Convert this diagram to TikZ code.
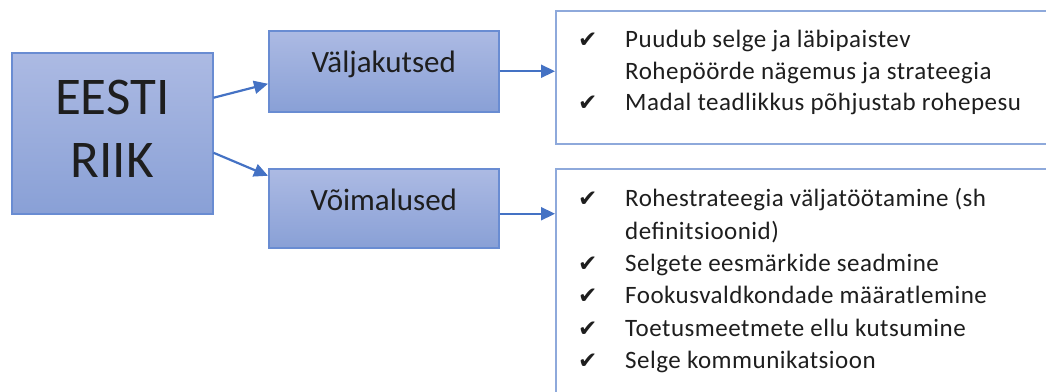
\documentclass[tikz,border=0pt]{standalone}
\usepackage{fontspec}
\setmainfont{Carlito}
\newfontfamily\dejavu{DejaVu Sans}
\usetikzlibrary{arrows.meta}
\definecolor{arrowblue}{RGB}{68,114,196}
\definecolor{boxtop}{RGB}{172,186,227}
\definecolor{boxbot}{RGB}{137,160,214}
\definecolor{boxedge}{RGB}{105,140,210}
\definecolor{listedge}{RGB}{142,169,219}
\definecolor{txt}{RGB}{30,30,30}
\newcommand\ckm{\makebox[47pt][l]{{\dejavu\fontsize{23}{24}\selectfont ✔}}}
\newcommand\dsp{\hspace{6pt}}
\begin{document}
\begin{tikzpicture}[x=1pt,y=-1pt,
 bluebox/.style={draw=boxedge, line width=1.5pt, top color=boxtop, bottom color=boxbot, inner sep=0pt, anchor=north west, text=txt},
 listbox/.style={draw=listedge, line width=2pt, fill=white, inner sep=0pt, anchor=north west},
 item/.style={anchor=base west, inner sep=0pt, font=\fontsize{25}{30}\selectfont\addfontfeatures{LetterSpace=2}, text=txt},
 conn/.style={draw=arrowblue, line width=2.2pt, -{Triangle[length=14pt,width=13pt]}}]
\useasboundingbox (0,0) rectangle (1046,391);
\clip (0,0) rectangle (1046,391);
\node[bluebox, minimum width=201pt, minimum height=161pt, font=\fontsize{53}{63}\selectfont] (state) at (11,52) {\begin{tabular}{@{}c@{}}EESTI\\RIIK\end{tabular}};
\node[bluebox, minimum width=230pt, minimum height=81pt, font=\fontsize{31}{36}\selectfont, text height=2.4pt, text depth=0pt] (v) at (268,30) {Väljakutsed};
\node[bluebox, minimum width=230pt, minimum height=79pt, font=\fontsize{31}{36}\selectfont, text height=5pt, text depth=0pt] (w) at (268,168) {Võimalused};
\node[listbox, minimum width=520pt, minimum height=133pt] (r1) at (555,10) {};
\node[listbox, minimum width=520pt, minimum height=240pt] (r2) at (555,168) {};
% top list
\node[item] (t1) at (578,47) {\ckm Puudub selge\dsp ja läbipaistev};
\node[item] (t2) at (625,79) {Rohepöörde nägemus ja strateegia};
\node[item] (t3) at (578,110) {\ckm Madal teadlikkus põhjustab rohepesu};
% bottom list
\node[item] (b1) at (578,206) {\ckm Rohestrateegia\dsp väljatöötamine (sh};
\node[item] (b2) at (625,239) {definitsioonid)};
\node[item] (b3) at (578,271) {\ckm Selgete\dsp eesmärkide\dsp seadmine};
\node[item] (b4) at (578,303) {\ckm Fookusvaldkondade määratlemine};
\node[item] (b5) at (578,336) {\ckm Toetusmeetmete\dsp ellu kutsumine};
\node[item] (b6) at (578,368) {\ckm Selge kommunikatsioon};
% connectors
\draw[conn] ([yshift=35.5pt]state.east) -- ([yshift=-12.5pt]v.west);
\draw[conn] ([yshift=-19.5pt]state.east) -- ([yshift=32.5pt]w.west);
\draw[conn] (v.east) -- (v.east -| r1.west);
\draw[conn] ([yshift=-5.5pt]w.east) -- ([yshift=-5.5pt]w.east -| r2.west);
\end{tikzpicture}
\end{document}
